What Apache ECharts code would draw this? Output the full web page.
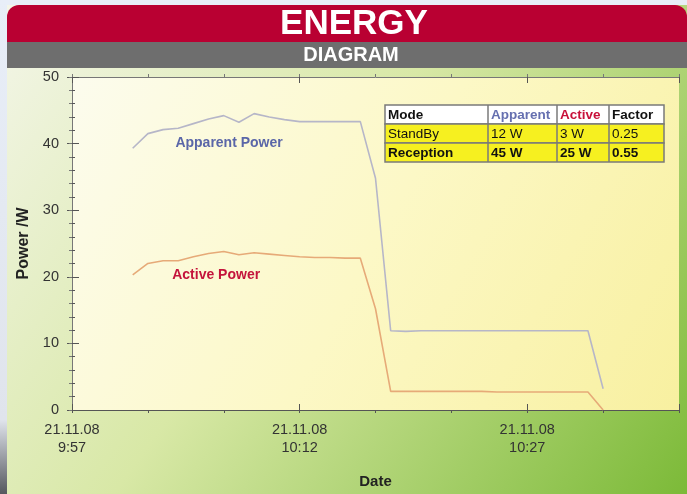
<!DOCTYPE html>
<html>
<head>
<meta charset="utf-8">
<script src="https://cdn.jsdelivr.net/npm/echarts@6/dist/echarts.min.js"></script>
<style>
  html, body { margin: 0; padding: 0; background: #e8eef8; }
  #chart { width: 687px; height: 494px; }
</style>
</head>
<body>
<div id="chart"></div>
<script>
// minutes after 21.11.08 9:57
var minutes = [4, 5, 6, 7, 8, 9, 10, 11, 12, 13, 14, 15, 16, 17, 18, 19, 20, 21, 22, 23, 24, 25, 26, 27, 28, 29, 30, 31, 32, 33, 34, 35];
var apparent = [39.3, 41.5, 42.1, 42.3, 43.0, 43.7, 44.2, 43.2, 44.5, 44.0, 43.6, 43.3, 43.3, 43.3, 43.3, 43.3, 34.8, 11.9, 11.8, 11.9, 11.9, 11.9, 11.9, 11.9, 11.9, 11.9, 11.9, 11.9, 11.9, 11.9, 11.9, 3.2];
var active = [20.3, 22.0, 22.4, 22.4, 23.0, 23.5, 23.8, 23.3, 23.6, 23.4, 23.2, 23.0, 22.9, 22.9, 22.8, 22.8, 15.2, 2.8, 2.8, 2.8, 2.8, 2.8, 2.8, 2.8, 2.7, 2.7, 2.7, 2.7, 2.7, 2.7, 2.7, 0];
// tick labels on the date axis (minute offset -> label)
var tickMinutes = [0, 15, 30];
var tickLabels = ["21.11.08\n9:57", "21.11.08\n10:12", "21.11.08\n10:27"];
// table
var tableHead = ["Mode", "Apparent", "Active", "Factor"];
var tableRows = [
  ["StandBy", "12 W", "3 W", "0.25"],
  ["Reception", "45 W", "25 W", "0.55"]
];

var font = "Liberation Sans, Arial, sans-serif";
var tickColor = "#555";

function pairs(vals) {
  return minutes.map(function (m, i) { return [m, vals[i]]; });
}

// table built with graphic elements
function buildTable() {
  var colX = [385, 488, 557, 609, 664];
  var rowY = [105, 124, 143, 162];
  var headColors = ["#111", "#6670b0", "#c8103a", "#111"];
  var children = [];
  for (var r = 0; r < 3; r++) {
    children.push({
      type: "rect",
      shape: { x: colX[0], y: rowY[r], width: colX[4] - colX[0], height: rowY[r + 1] - rowY[r] },
      style: { fill: r === 0 ? "#ffffff" : "#f6f020", stroke: "#7a7a7a", lineWidth: 1.5 }
    });
    for (var c = 0; c < 4; c++) {
      var txt = r === 0 ? tableHead[c] : tableRows[r - 1][c];
      children.push({
        type: "text",
        style: {
          text: txt,
          x: colX[c] + 3,
          y: (rowY[r] + rowY[r + 1]) / 2 + 0.5,
          verticalAlign: "middle",
          fill: r === 0 ? headColors[c] : "#111",
          font: (r === 1 ? "normal " : "bold ") + "13.5px " + font
        }
      });
    }
  }
  for (var k = 1; k < 4; k++) {
    children.push({
      type: "line",
      shape: { x1: colX[k], y1: rowY[0], x2: colX[k], y2: rowY[3] },
      style: { stroke: "#7a7a7a", lineWidth: 1.5 }
    });
  }
  return { type: "group", z: 50, children: children };
}

var myChart = echarts.init(document.getElementById("chart"));

var baseX = { type: "value", min: 0, max: 40, interval: 5, gridIndex: 0 };
var baseY = { type: "value", min: 0, max: 50, interval: 10, gridIndex: 0 };

// extra axes only carrying tick marks (crossing ticks like the original)
function tickX(opts) {
  return Object.assign({}, baseX, {
    axisLine: { show: false }, axisLabel: { show: false }, splitLine: { show: false }
  }, opts);
}
function tickY(opts) {
  return Object.assign({}, baseY, {
    axisLine: { show: false }, axisLabel: { show: false }, splitLine: { show: false }
  }, opts);
}

myChart.setOption({
  animation: false,
  backgroundColor: new echarts.graphic.LinearGradient(0, 0, 1, 1, [
    { offset: 0, color: "#f4f6ea" },
    { offset: 0.45, color: "#d8e8a6" },
    { offset: 1, color: "#7cba38" }
  ]),
  graphic: [
    // page strips
    { type: "rect", z: 1, shape: { x: 0, y: 0, width: 687, height: 5 }, style: { fill: "#e8eef8" } },
    { type: "rect", z: 1, shape: { x: 0, y: 0, width: 7, height: 494 },
      style: { fill: new echarts.graphic.LinearGradient(0, 0, 0, 1, [
        { offset: 0, color: "#e8eef8" }, { offset: 0.85, color: "#e0e4ec" }, { offset: 1, color: "#55585e" }]) } },
    // header
    { type: "rect", z: 2, shape: { x: 7, y: 5, width: 680, height: 37, r: [12, 12, 0, 0] }, style: { fill: "#b90032" } },
    { type: "rect", z: 2, shape: { x: 7, y: 42, width: 680, height: 26 }, style: { fill: "#6e6e6e" } },
    { type: "text", z: 3, style: { text: "ENERGY", x: 354, y: 24, align: "center", verticalAlign: "middle",
      fill: "#ffffff", font: "bold 35px " + font } },
    { type: "text", z: 3, style: { text: "DIAGRAM", x: 351, y: 55, align: "center", verticalAlign: "middle",
      fill: "#ffffff", font: "bold 20px " + font } },
    buildTable()
  ],
  grid: {
    left: 72, right: 8, top: 77, bottom: 81,
    show: true,
    borderWidth: 0,
    backgroundColor: new echarts.graphic.LinearGradient(0, 0, 1, 1, [
      { offset: 0, color: "#fcfcee" },
      { offset: 0.5, color: "#fcf8c6" },
      { offset: 1, color: "#f8f0a0" }
    ])
  },
  xAxis: [
    Object.assign({}, baseX, {
      name: "Date",
      nameLocation: "middle",
      nameGap: 64,
      nameTextStyle: { fontFamily: font, fontWeight: "bold", fontSize: 15, color: "#222" },
      axisLine: { show: true, lineStyle: { color: tickColor, width: 1 } },
      axisTick: { show: true, length: 3, lineStyle: { color: tickColor } },
      splitLine: { show: false },
      axisLabel: {
        show: true, margin: 11, fontFamily: font, fontSize: 14.5, color: "#333", lineHeight: 18,
        formatter: function (v) {
          var i = tickMinutes.indexOf(v);
          return i >= 0 ? tickLabels[i] : "";
        }
      }
    }),
    tickX({ axisTick: { show: true, inside: true, length: 3, lineStyle: { color: tickColor } } }),
    tickX({ interval: 15, axisTick: { show: true, length: 6, lineStyle: { color: tickColor } } }),
    tickX({ interval: 15, axisTick: { show: true, inside: true, length: 6, lineStyle: { color: tickColor } } }),
    Object.assign({}, baseX, {
      position: "top",
      axisLine: { show: true, lineStyle: { color: "#777", width: 1 } },
      axisTick: { show: true, length: 3, lineStyle: { color: "#777" } },
      axisLabel: { show: false }, splitLine: { show: false }
    })
  ],
  yAxis: [
    Object.assign({}, baseY, {
      name: "Power /W",
      nameLocation: "middle",
      nameGap: 37,
      nameTextStyle: { fontFamily: font, fontWeight: "bold", fontSize: 16, color: "#222" },
      axisLine: { show: true, lineStyle: { color: tickColor, width: 1 } },
      axisTick: { show: true, length: 5, lineStyle: { color: tickColor } },
      minorTick: { show: true, splitNumber: 5, length: 3, lineStyle: { color: tickColor } },
      splitLine: { show: false },
      axisLabel: { show: true, margin: 13, fontFamily: font, fontSize: 14.5, color: "#333" }
    }),
    tickY({
      position: "left",
      axisTick: { show: true, inside: true, length: 7, lineStyle: { color: tickColor } },
      minorTick: { show: true, splitNumber: 5, length: 3, lineStyle: { color: tickColor } }
    }),
    Object.assign({}, baseY, {
      position: "right",
      axisLine: { show: true, lineStyle: { color: "#777", width: 1 } },
      axisTick: { show: true, inside: true, length: 3, lineStyle: { color: "#777" } },
      minorTick: { show: true, splitNumber: 5, length: 3, lineStyle: { color: "#777" } },
      axisLabel: { show: false }, splitLine: { show: false }
    })
  ],
  series: [
    {
      name: "Apparent Power",
      type: "line",
      data: pairs(apparent),
      showSymbol: false,
      lineStyle: { color: "#b6b6c8", width: 1.6 },
      itemStyle: { color: "#b6b6c8" },
      z: 5,
      markPoint: {
        symbol: "circle", symbolSize: 0,
        data: [{ coord: [10.35, 40.0], value: "Apparent Power" }],
        label: { show: true, position: "inside", color: "#5a66a8", fontFamily: font, fontWeight: "bold", fontSize: 14,
          formatter: "{c}" }
      }
    },
    {
      name: "Active Power",
      type: "line",
      data: pairs(active),
      showSymbol: false,
      lineStyle: { color: "#e6aa78", width: 1.6 },
      itemStyle: { color: "#e6aa78" },
      z: 5,
      markPoint: {
        symbol: "circle", symbolSize: 0,
        data: [{ coord: [9.5, 20.2], value: "Active Power" }],
        label: { show: true, position: "inside", color: "#c4143c", fontFamily: font, fontWeight: "bold", fontSize: 14,
          formatter: "{c}" }
      }
    }
  ]
});
</script>
</body>
</html>
